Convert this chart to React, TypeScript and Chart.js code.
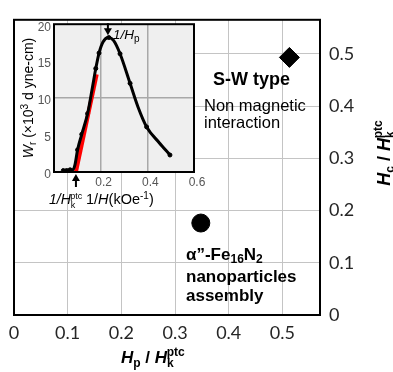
import React, { useEffect, useRef } from "react";
import { Chart, registerables } from "chart.js";
Chart.register(...registerables);

// ---- main chart data ----
const mainXTickStep = 0.1;
const mainXMax = 0.57;
const mainYMax = 0.565;
const swTypeX = [0.513];
const swTypeY = [0.493];
const nanoX = [0.348];
const nanoY = [0.176];

// ---- inset data (1/H in kOe^-1, Wr in 10^3 dyne-cm) ----
const curveX = [0.04, 0.08, 0.09, 0.101, 0.119, 0.144, 0.165, 0.179, 0.193, 0.21, 0.233, 0.255, 0.283, 0.326, 0.36, 0.397, 0.45, 0.497];
const curveY = [0.2, 0.3, 1.0, 3.0, 5.1, 7.9, 11.5, 14.0, 16.1, 17.6, 18.2, 17.8, 16.0, 12.0, 8.8, 6.1, 4.0, 2.3];
const dotX = [0.04, 0.054, 0.069, 0.101, 0.119, 0.144, 0.179, 0.193, 0.235, 0.283, 0.326, 0.397, 0.497];
const dotY = [0.2, 0.2, 0.3, 3.0, 5.1, 7.9, 14.0, 16.1, 18.2, 16.0, 12.0, 6.1, 2.3];
const fitX = [0.094, 0.183];
const fitY = [0, 13.2];
const invHk = 0.094;
const invHp = 0.231;

const SANS = '"Liberation Sans", Arial, sans-serif';

const pts = (xs: number[], ys: number[]) => xs.map((x, i) => ({ x, y: ys[i] }));

const framePlugin = {
  id: "frame",
  afterDraw(chart: any) {
    const { ctx, chartArea } = chart;
    ctx.save();
    ctx.strokeStyle = "#000";
    ctx.lineWidth = 2;
    ctx.strokeRect(chartArea.left, chartArea.top, chartArea.right - chartArea.left, chartArea.bottom - chartArea.top);
    ctx.restore();
  },
};

const insetPlugin = {
  id: "insetDecor",
  beforeDraw(chart: any) {
    const { ctx, chartArea } = chart;
    const { left, top, right, bottom } = chartArea;
    ctx.save();
    ctx.fillStyle = "#fff";
    ctx.fillRect(0, top, left, bottom - top);
    ctx.fillStyle = "#efefef";
    ctx.fillRect(left, top, right - left, bottom - top);
    ctx.restore();
  },
  afterDraw(chart: any) {
    const { ctx, chartArea, scales } = chart;
    ctx.save();
    ctx.strokeStyle = "#000";
    ctx.lineWidth = 2;
    ctx.strokeRect(chartArea.left, chartArea.top, chartArea.right - chartArea.left, chartArea.bottom - chartArea.top);
    const arrow = (x: number, y1: number, y2: number) => {
      const dir = Math.sign(y2 - y1);
      ctx.strokeStyle = "#000";
      ctx.fillStyle = "#000";
      ctx.lineWidth = 2;
      ctx.beginPath();
      ctx.moveTo(x, y1);
      ctx.lineTo(x, y2 - dir * 5);
      ctx.stroke();
      ctx.beginPath();
      ctx.moveTo(x, y2);
      ctx.lineTo(x - 4, y2 - dir * 7);
      ctx.lineTo(x + 4, y2 - dir * 7);
      ctx.closePath();
      ctx.fill();
    };
    arrow(scales.x.getPixelForValue(invHp), chartArea.top - 1, chartArea.top + 11);
    arrow(scales.x.getPixelForValue(invHk), chartArea.bottom + 15, chartArea.bottom + 2);
    ctx.restore();
  },
};

const Sub = ({ children, size, dy }: any) => (
  <span style={{ fontSize: size, position: "relative", top: dy }}>{children}</span>
);

export default function App() {
  const mainRef = useRef<HTMLCanvasElement>(null);
  const insetRef = useRef<HTMLCanvasElement>(null);

  useEffect(() => {
    const fmt1 = (v: any) => {
      const n = Math.round(Number(v) * 10) / 10;
      return n === 0 ? "0" : n.toFixed(1);
    };
    const main = new Chart(mainRef.current as HTMLCanvasElement, {
      type: "scatter",
      data: {
        datasets: [
          {
            data: pts(swTypeX, swTypeY),
            pointStyle: "rectRot",
            pointRadius: 10,
            backgroundColor: "#000",
            borderColor: "#000",
          },
          {
            data: pts(nanoX, nanoY),
            pointStyle: "circle",
            pointRadius: 9,
            backgroundColor: "#000",
            borderColor: "#000",
          },
        ],
      },
      options: {
        animation: false,
        responsive: false,
        maintainAspectRatio: false,
        layout: { padding: { left: 14, top: 13, right: 0, bottom: 0 } },
        plugins: { legend: { display: false }, tooltip: { enabled: false } },
        scales: {
          x: {
            type: "linear",
            position: "bottom",
            min: 0,
            max: mainXMax,
            grid: { color: "#c4c4c4", lineWidth: 1, drawTicks: false },
            border: { display: false },
            ticks: {
              stepSize: mainXTickStep,
              includeBounds: false,
              autoSkip: false,
              maxRotation: 0,
              padding: 7,
              color: "#262626",
              font: { family: "Lato, " + SANS, size: 18 },
              callback: fmt1,
            },
            afterFit: (s: any) => {
              s.height = 57;
            },
          } as any,
          y: {
            type: "linear",
            position: "right",
            min: 0,
            max: mainYMax,
            grid: { color: "#c4c4c4", lineWidth: 1, drawTicks: false },
            border: { display: false },
            ticks: {
              stepSize: 0.1,
              includeBounds: false,
              autoSkip: false,
              padding: 9,
              color: "#262626",
              font: { family: "Lato, " + SANS, size: 18 },
              callback: fmt1,
            },
            afterFit: (s: any) => {
              s.width = 73;
            },
          } as any,
        },
      },
      plugins: [framePlugin],
    });

    const inset = new Chart(insetRef.current as HTMLCanvasElement, {
      type: "scatter",
      data: {
        datasets: [
          {
            type: "line",
            data: pts(curveX, curveY),
            borderColor: "#000",
            borderWidth: 3,
            pointRadius: 0,
            cubicInterpolationMode: "monotone",
            fill: false,
          } as any,
          {
            type: "line",
            data: pts(fitX, fitY),
            borderColor: "#ff0000",
            borderWidth: 4,
            pointRadius: 0,
            fill: false,
          } as any,
          {
            data: pts(dotX, dotY),
            pointStyle: "circle",
            pointRadius: 2,
            backgroundColor: "#000",
            borderColor: "#000",
          },
        ],
      },
      options: {
        animation: false,
        responsive: false,
        maintainAspectRatio: false,
        layout: { padding: { left: 0, top: 10, right: 21, bottom: 0 } },
        plugins: { legend: { display: false }, tooltip: { enabled: false } },
        scales: {
          x: {
            type: "linear",
            min: 0,
            max: 0.6,
            grid: {
              color: (c: any) => (c.tick && (Math.abs(c.tick.value - 0.2) < 1e-6 || Math.abs(c.tick.value - 0.4) < 1e-6) ? "#a8a8a8" : "rgba(0,0,0,0)"),
              lineWidth: 1.5,
              drawTicks: false,
            },
            border: { display: false },
            ticks: {
              stepSize: 0.2,
              autoSkip: false,
              maxRotation: 0,
              padding: 3,
              labelOffset: 3,
              color: "#555",
              font: { family: SANS, size: 12 },
              callback: (v: any) => (Number(v) === 0 ? "" : Number(v).toFixed(1)),
            },
            afterFit: (s: any) => {
              s.height = 34;
            },
          } as any,
          y: {
            type: "linear",
            min: 0,
            max: 20,
            grid: {
              color: (c: any) => (c.tick && c.tick.value === 10 ? "#a8a8a8" : "rgba(0,0,0,0)"),
              lineWidth: 1.5,
              drawTicks: false,
            },
            border: { display: false },
            ticks: {
              stepSize: 5,
              autoSkip: false,
              padding: 3,
              labelOffset: 3,
              color: "#555",
              font: { family: SANS, size: 12 },
            },
            afterFit: (s: any) => {
              s.width = 39;
            },
          } as any,
        },
      },
      plugins: [insetPlugin],
    });

    return () => {
      main.destroy();
      inset.destroy();
    };
  }, []);

  const abs = (left: number, top: number, extra: any = {}) => ({
    position: "absolute" as const,
    left,
    top,
    whiteSpace: "nowrap" as const,
    lineHeight: 1,
    fontFamily: SANS,
    color: "#000",
    ...extra,
  });

  return (
    <div style={{ position: "fixed", left: 0, top: 0, width: 393, height: 372, background: "#fff", overflow: "hidden" }}>
      <canvas ref={mainRef} width={393} height={372} style={{ position: "absolute", left: 0, top: 0, width: 393, height: 372 }} />
      <canvas ref={insetRef} width={200} height={192} style={{ position: "absolute", left: 15, top: 14, width: 200, height: 192 }} />

      {/* main x-axis title */}
      <div style={abs(121, 349, { fontSize: 17, fontWeight: "bold" })}>
        <i>H</i>
        <Sub size={12} dy={4}>p</Sub> / <i>H</i>
        <Sub size={12} dy={4}>k</Sub>
        <span style={{ fontSize: 12, position: "relative", top: -7, marginLeft: -7 }}>ptc</span>
      </div>

      {/* main y-axis title (right) */}
      <div
        style={abs(334, 143, {
          width: 100,
          height: 20,
          lineHeight: "20px",
          textAlign: "center",
          fontSize: 18,
          fontWeight: "bold",
          transform: "rotate(-90deg)",
          transformOrigin: "50% 50%",
        })}
      >
        <i>H</i>
        <Sub size={12} dy={4}>c</Sub> / <i>H</i>
        <Sub size={12} dy={4}>k</Sub>
        <span style={{ fontSize: 12, position: "relative", top: -8, marginLeft: -7 }}>ptc</span>
      </div>

      {/* annotations */}
      <div style={abs(213, 70, { fontSize: 18, fontWeight: "bold" })}>S-W type</div>
      <div style={abs(204, 97, { fontSize: 16.5, lineHeight: "17px" })}>
        Non magnetic
        <br />
        interaction
      </div>
      <div style={abs(186, 245, { fontSize: 17, fontWeight: "bold", lineHeight: "19.5px" })}>
        α”-Fe<Sub size={12} dy={3}>16</Sub>N<Sub size={12} dy={3}>2</Sub>
        <br />
        nanoparticles
        <br />
        assembly
      </div>

      {/* inset labels */}
      <div style={abs(113, 28, { fontSize: 13.5 })}>
        <i>1/H</i>
        <Sub size={10} dy={3}>p</Sub>
      </div>
      <div style={abs(49, 192, { fontSize: 14 })}>
        <i>1/H</i>
        <Sub size={9} dy={4}>k</Sub>
        <span style={{ fontSize: 9, position: "relative", top: -5, marginLeft: -5 }}>ptc</span>
      </div>
      <div style={abs(86, 192, { fontSize: 14.5 })}>
        1/<i>H</i>(kOe<span style={{ fontSize: 10, position: "relative", top: -5 }}>-1</span>)
      </div>
      <div
        style={abs(-47, 90, {
          width: 150,
          height: 16,
          lineHeight: "16px",
          textAlign: "center",
          fontSize: 14,
          transform: "rotate(-90deg)",
          transformOrigin: "50% 50%",
        })}
      >
        <i>W</i>
        <Sub size={10} dy={3}>r</Sub> (×10<span style={{ fontSize: 10, position: "relative", top: -5 }}>3</span> d yne-cm)
      </div>
    </div>
  );
}
